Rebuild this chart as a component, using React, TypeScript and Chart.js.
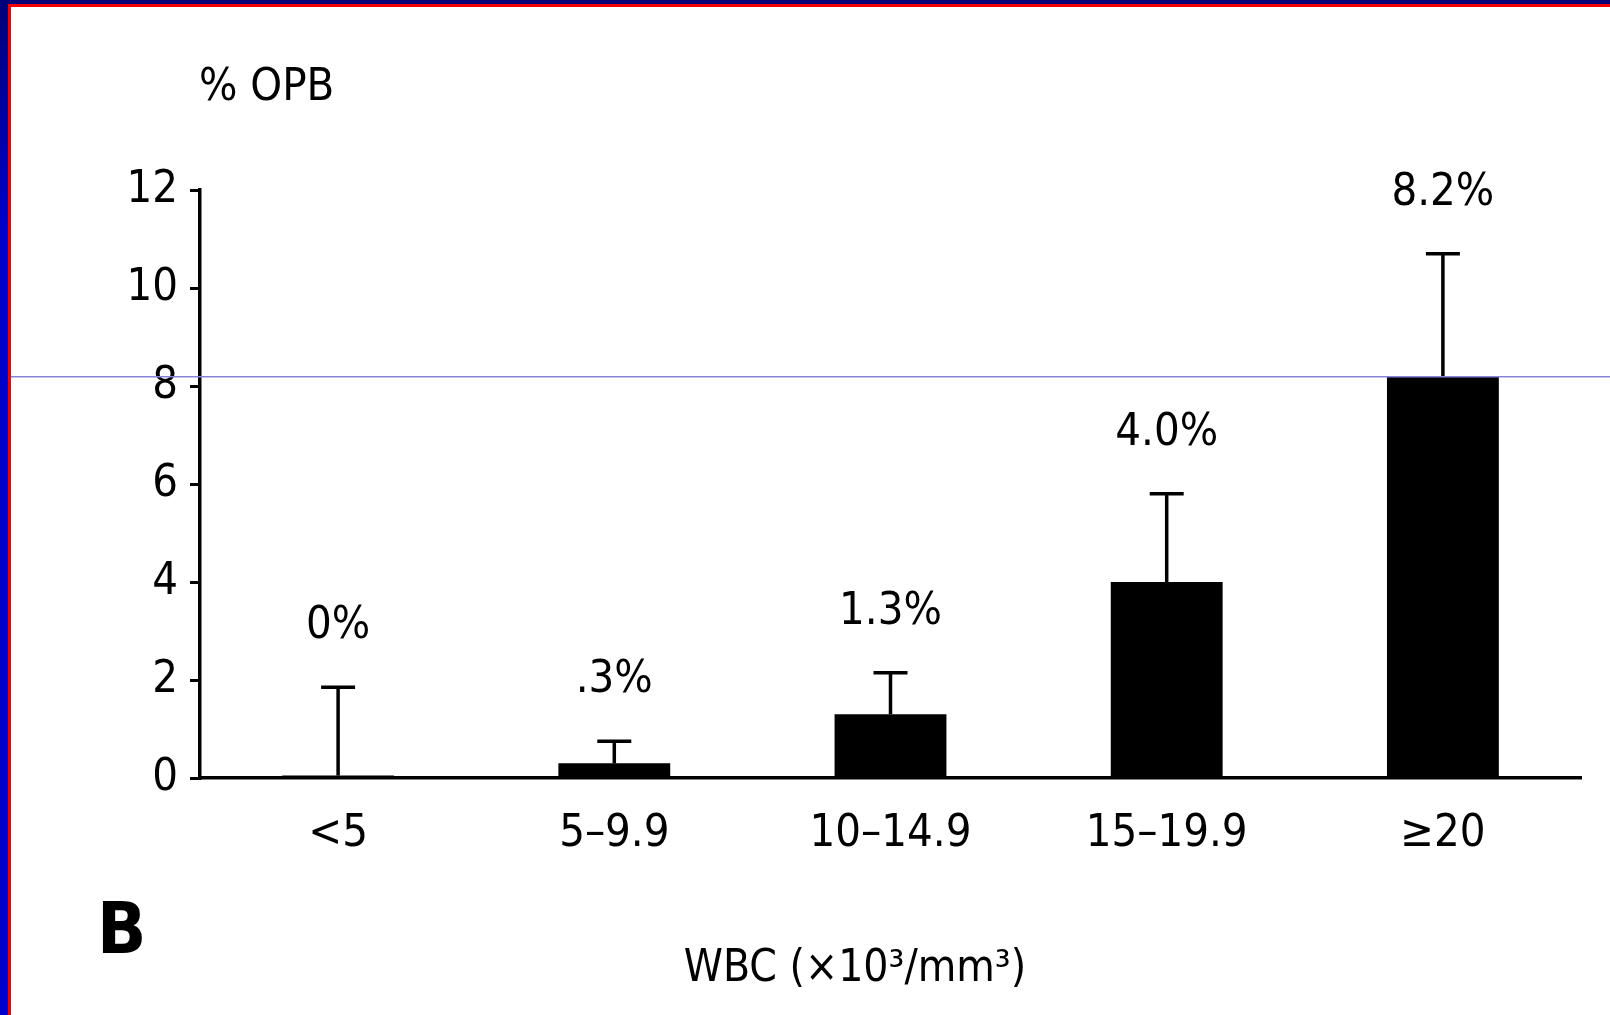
import React, { useEffect, useRef } from "react";
import { Chart, registerables } from "chart.js";

Chart.register(...registerables);

const categories = ["<5", "5–9.9", "10–14.9", "15–19.9", "≥20"];
const opbPercent = [0.05, 0.3, 1.3, 4.0, 8.2];
const errorUpper = [1.85, 0.75, 2.15, 5.8, 10.7];
const valueLabels = ["0%", ".3%", "1.3%", "4.0%", "8.2%"];
const yMin = 0;
const yMax = 12;
const yStep = 2;
const yTitle = "% OPB";
const xTitle = "WBC (×10³/mm³)";
const panelLetter = "B";

const FONT = '"Liberation Sans Narrow", "DejaVu Sans Condensed", "Liberation Sans", sans-serif';

const W = 1610;
const H = 1015;

const extrasPlugin = {
  id: "extras",
  afterDatasetsDraw(chart: any) {
    const ctx = chart.ctx;
    const meta = chart.getDatasetMeta(0);
    const ys = chart.scales.y;
    ctx.save();
    ctx.strokeStyle = "#000";
    ctx.fillStyle = "#000";
    ctx.lineWidth = 3.5;
    ctx.lineCap = "butt";
    meta.data.forEach((bar: any, i: number) => {
      const x = bar.x;
      const base = bar.y;
      const top = ys.getPixelForValue(errorUpper[i]);
      ctx.beginPath();
      ctx.moveTo(x, base);
      ctx.lineTo(x, top);
      ctx.stroke();
      ctx.beginPath();
      ctx.moveTo(x - 17, top);
      ctx.lineTo(x + 17, top);
      ctx.stroke();
      ctx.font = `45px ${FONT}`;
      ctx.textAlign = "center";
      ctx.textBaseline = "alphabetic";
      ctx.fillText(valueLabels[i], x, top - 49);
    });
    ctx.restore();
  },
  afterDraw(chart: any) {
    const ctx = chart.ctx;
    ctx.save();
    ctx.fillStyle = "#000";
    ctx.textBaseline = "middle";
    ctx.textAlign = "left";
    ctx.font = `45px ${FONT}`;
    ctx.fillText(yTitle, 199, 88);
    ctx.font = `bold 72px ${FONT}`;
    ctx.fillText(panelLetter, 97, 934);
    ctx.textAlign = "center";
    ctx.font = `44px ${FONT}`;
    ctx.fillText(xTitle, 855, 970);
    ctx.fillStyle = "#8484d8";
    ctx.fillRect(0, 376, W, 1.5);
    ctx.restore();
  },
};

export default function App() {
  const ref = useRef<HTMLCanvasElement | null>(null);

  useEffect(() => {
    if (!ref.current) return;
    const chart = new Chart(ref.current, {
      type: "bar",
      data: {
        labels: categories,
        datasets: [
          {
            data: opbPercent,
            backgroundColor: "#000",
            borderWidth: 0,
            barPercentage: 0.405,
            categoryPercentage: 1,
          },
        ],
      },
      options: {
        animation: false,
        responsive: false,
        devicePixelRatio: 1,
        layout: { padding: { left: 0, right: 29, top: 190, bottom: 0 } },
        plugins: {
          legend: { display: false },
          tooltip: { enabled: false },
        },
        scales: {
          x: {
            grid: { display: false },
            border: { display: true, color: "#000", width: 3.5 },
            ticks: {
              color: "#000",
              font: { family: FONT, size: 45 },
              padding: 21,
            },
            afterFit: (s: any) => {
              s.height = 237;
            },
          },
          y: {
            min: yMin,
            max: yMax,
            grid: {
              display: true,
              drawOnChartArea: false,
              drawTicks: true,
              tickLength: 10,
              color: "#000",
              lineWidth: 3,
            },
            border: { display: true, color: "#000", width: 3.5 },
            ticks: {
              stepSize: yStep,
              color: "#000",
              font: { family: FONT, size: 45 },
              padding: 12,
            },
            afterFit: (s: any) => {
              s.width = 200;
            },
          },
        },
      },
      plugins: [extrasPlugin],
    });
    return () => chart.destroy();
  }, []);

  return (
    <div
      style={{
        position: "fixed",
        left: 0,
        top: 0,
        width: W,
        height: H,
        background: "#fff",
        overflow: "hidden",
      }}
    >
      <canvas ref={ref} width={W} height={H} style={{ display: "block", width: W, height: H }} />
      <div style={{ position: "absolute", left: 0, top: 0, width: W, height: 4, background: "#000078" }} />
      <div style={{ position: "absolute", left: 8, top: 4, width: W - 8, height: 3, background: "#f00000" }} />
      <div
        style={{
          position: "absolute",
          left: 0,
          top: 0,
          width: 8,
          height: H,
          background: "linear-gradient(to bottom, #000078 0%, #0000c8 22%, #0000cc 100%)",
        }}
      />
      <div style={{ position: "absolute", left: 8, top: 4, width: 3, height: H - 4, background: "#f00000" }} />
    </div>
  );
}
